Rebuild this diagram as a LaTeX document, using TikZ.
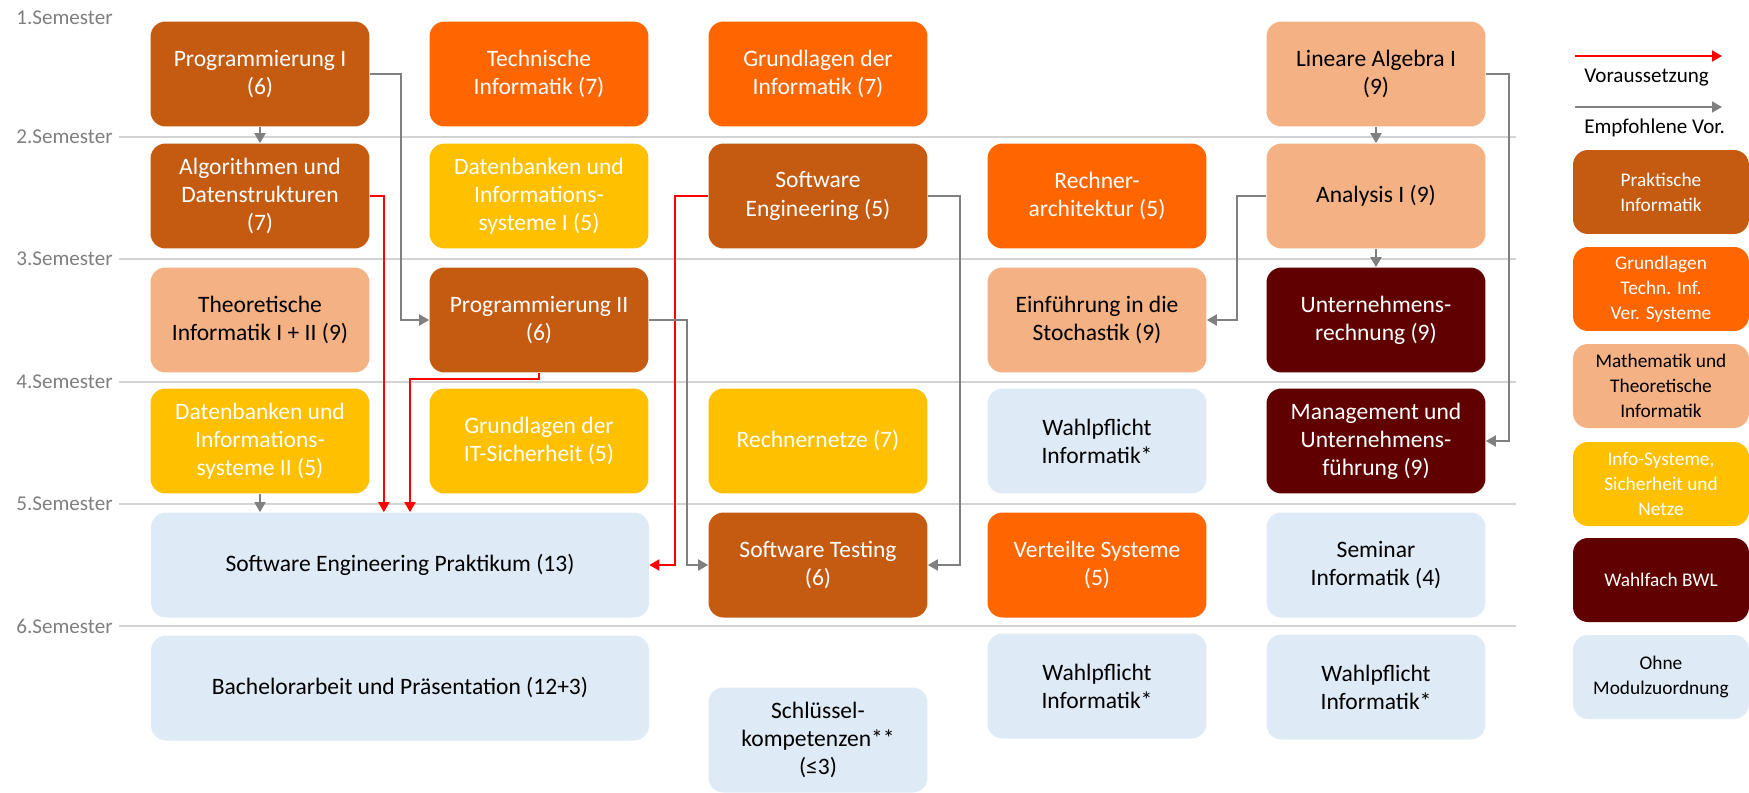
\documentclass[tikz,border=0pt]{standalone}
\usepackage{fontspec}
\setmainfont{Carlito}
\usetikzlibrary{arrows.meta}
\definecolor{prakt}{HTML}{C55A11}
\definecolor{grundl}{HTML}{FF6600}
\definecolor{mathe}{HTML}{F4B183}
\definecolor{infosys}{HTML}{FFC000}
\definecolor{bwl}{HTML}{600000}
\definecolor{ohne}{HTML}{DEEAF6}
\definecolor{semline}{HTML}{D3D3D3}
\definecolor{semtext}{HTML}{7F7F7F}
\definecolor{empfgray}{HTML}{808080}
\tikzset{
  modul/.style={rounded corners=0.3cm,minimum width=4.38cm,minimum height=2.1cm,inner sep=0pt,
    align=center,font=\fontsize{13.4}{16}\selectfont},
  breit/.style={modul,minimum width=9.96cm},
  legbox/.style={rounded corners=0.3cm,minimum width=3.52cm,minimum height=1.68cm,inner sep=0pt,
    align=center,font=\fontsize{11}{14.2}\selectfont},
  praktisch/.style={fill=prakt,text=white},
  grundlagen/.style={fill=grundl,text=white},
  mathematik/.style={fill=mathe,text=black},
  infosysteme/.style={fill=infosys,text=white},
  wahlbwl/.style={fill=bwl,text=white},
  ohnezuord/.style={fill=ohne,text=black},
  req/.style={draw=red,line width=1.1pt,-{Triangle[length=0.2cm,width=0.22cm]}},
  empf/.style={draw=empfgray,line width=1.1pt,-{Triangle[length=0.2cm,width=0.22cm]}},
  semlabel/.style={anchor=east,inner sep=0pt,text=semtext,font=\fontsize{12}{14}\selectfont}
}
\begin{document}
\begin{tikzpicture}[x=0.02cm,y=-0.02cm]
\useasboundingbox (0,0) rectangle (1749,792);
\node[semlabel] (s1) at (113,18) {1.Semester};
\foreach \n/\y in {2/137,3/259,4/382,5/504,6/626}{
  \draw[semline,line width=1.3pt] (119,\y) -- (1516,\y);
  \node[semlabel] (s\n) at (113,\y) {\n.Semester};
}
\node[modul,praktisch] (prog1) at (260,74) {Programmierung I\\(6)};
\node[modul,grundlagen] (techinf) at (539,74) {Technische\\Informatik (7)};
\node[modul,grundlagen] (gdi) at (818,74) {Grundlagen der\\Informatik (7)};
\node[modul,mathematik] (linalg) at (1376,74) {Lineare Algebra I\\(9)};
\node[modul,praktisch] (algo) at (260,196) {Algorithmen und\\Datenstrukturen\\(7)};
\node[modul,infosysteme] (dbis1) at (539,196) {Datenbanken und\\Informations-\\systeme I (5)};
\node[modul,praktisch] (softeng) at (818,196) {Software\\Engineering (5)};
\node[modul,grundlagen] (rechnarch) at (1097,196) {Rechner-\\architektur (5)};
\node[modul,mathematik] (analysis) at (1376,196) {Analysis I (9)};
\node[modul,mathematik] (theo) at (260,320) {Theoretische\\Informatik I + II (9)};
\node[modul,praktisch] (prog2) at (539,320) {Programmierung II\\(6)};
\node[modul,mathematik] (stoch) at (1097,320) {Einführung in die\\Stochastik (9)};
\node[modul,wahlbwl] (unrech) at (1376,320) {Unternehmens-\\rechnung (9)};
\node[modul,infosysteme] (dbis2) at (260,441) {Datenbanken und\\Informations-\\systeme II (5)};
\node[modul,infosysteme] (itsich) at (539,441) {Grundlagen der\\IT-Sicherheit (5)};
\node[modul,infosysteme] (rnetze) at (818,441) {Rechnernetze (7)};
\node[modul,ohnezuord] (wpf1) at (1097,441) {Wahlpflicht\\Informatik*};
\node[modul,wahlbwl] (mgmt) at (1376,441) {Management und\\Unternehmens-\\führung (9)};
\node[breit,ohnezuord] (sepr) at (400,565) {Software Engineering Praktikum (13)};
\node[modul,praktisch] (swtest) at (818,565) {Software Testing\\(6)};
\node[modul,grundlagen] (versys) at (1097,565) {Verteilte Systeme\\(5)};
\node[modul,ohnezuord] (semin) at (1376,565) {Seminar\\Informatik (4)};
\node[breit,ohnezuord] (bach) at (400,688) {Bachelorarbeit und Präsentation (12+3)};
\node[modul,ohnezuord] (schlue) at (818,740) {Schlüssel-\\kompetenzen**\\(≤3)};
\node[modul,ohnezuord] (wpf2) at (1097,686) {Wahlpflicht\\Informatik*};
\node[modul,ohnezuord] (wpf3) at (1376,687) {Wahlpflicht\\Informatik*};
\draw[empf] (prog1.south) -- (algo.north);
\draw[empf] (prog1.east) -- ++(31,0) |- (prog2.west);
\draw[req] (algo.east) -- ++(14,0) coordinate (k1) -- (k1 |- sepr.north);
\draw[req] (prog2.south) -- ++(0,6) -- ++(-129,0) coordinate (k2) -- (k2 |- sepr.north);
\draw[req] (softeng.west) -- ++(-33,0) |- (sepr.east);
\draw[empf] (prog2.east) -- ++(38,0) |- (swtest.west);
\draw[empf] (softeng.east) -- ++(32,0) |- (swtest.east);
\draw[empf] (analysis.west) -- ++(-29,0) |- (stoch.east);
\draw[empf] (linalg.south) -- (analysis.north);
\draw[empf] (analysis.south) -- (unrech.north);
\draw[empf] (linalg.east) -- ++(23,0) |- (mgmt.east);
\draw[empf] (dbis2.south) -- (dbis2.south |- sepr.north);
\coordinate (vor0) at (1575,56);
\coordinate (vor1) at (1722,56);
\coordinate (emp0) at (1575,107);
\coordinate (emp1) at (1722,107);
\draw[req] (vor0) -- (vor1);
\draw[empf] (emp0) -- (emp1);
\node[anchor=west,inner sep=0pt,font=\fontsize{12}{14}\selectfont] (vortxt) at (1584,78) {Voraussetzung};
\node[anchor=west,inner sep=0pt,font=\fontsize{12}{14}\selectfont] (emptxt) at (1584,128) {Empfohlene Vor.};
\node[legbox,praktisch] (lprakt) at (1661,192) {Praktische\\Informatik};
\node[legbox,grundlagen] (lgrundl) at (1661,289) {Grundlagen\\Techn. Inf.\\Ver. Systeme};
\node[legbox,mathematik] (lmathe) at (1661,386) {Mathematik und\\Theoretische\\Informatik};
\node[legbox,infosysteme] (linfo) at (1661,484) {Info-Systeme,\\Sicherheit und\\Netze};
\node[legbox,wahlbwl] (lbwl) at (1661,580) {Wahlfach BWL};
\node[legbox,ohnezuord] (lohne) at (1661,677) {Ohne\\Modulzuordnung};
\end{tikzpicture}
\end{document}
